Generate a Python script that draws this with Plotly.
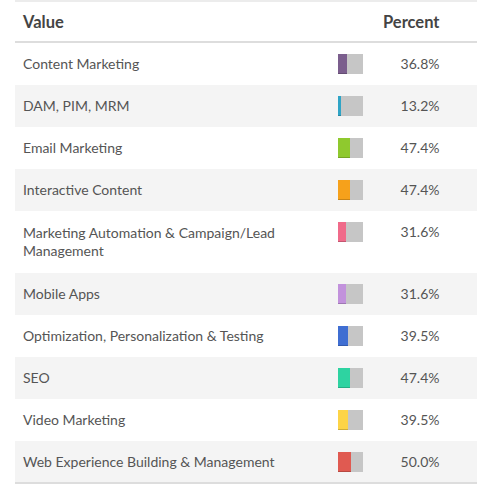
import plotly.graph_objects as go

# ---- data ----
categories = [
    "Content Marketing",
    "DAM, PIM, MRM",
    "Email Marketing",
    "Interactive Content",
    "Marketing Automation & Campaign/Lead<br>Management",
    "Mobile Apps",
    "Optimization, Personalization & Testing",
    "SEO",
    "Video Marketing",
    "Web Experience Building & Management",
]
percent = [36.8, 13.2, 47.4, 47.4, 31.6, 31.6, 39.5, 47.4, 39.5, 50.0]
bar_colors = ["#7b5e8d", "#2fa4c6", "#8fc92e", "#f6a11b", "#f06b8a",
              "#c292dc", "#3f6ed2", "#2ed3a1", "#fdd447", "#e05a51"]
headers = ["Value", "Percent"]

# ---- layout constants (pixels) ----
W, H = 477, 486
LEFT, RIGHT = 15, 477
HEAD_BOTTOM = 42
ROW_H, LINE_H = 42, 20
TEXT_X, PCT_X = 23, 439.5
BAR_X0, BAR_X1 = 338, 363
BAR_H = 20
TXT_DY = 1.3      # baseline nudge for body text
HEAD_Y = 24
TXT = "#555555"
HEAD = "#444444"
FONT = "Lato, 'Open Sans', sans-serif"

# row geometry derived from number of text lines
tops, heights = [], []
t = HEAD_BOTTOM + 1
for c in categories:
    n = c.count("<br>") + 1
    h = ROW_H + LINE_H * (n - 1)
    tops.append(t)
    heights.append(h)
    t += h
first_line = [tp + ROW_H / 2 for tp in tops]
text_mid = [tp + h / 2 for tp, h in zip(tops, heights)]
table_bottom = t


def darker(hexc, f=0.82):
    r, g, b = int(hexc[1:3], 16), int(hexc[3:5], 16), int(hexc[5:7], 16)
    return "#%02x%02x%02x" % (int(r * f), int(g * f), int(b * f))


fig = go.Figure()

# labels
fig.add_trace(go.Scatter(
    x=[TEXT_X] * len(categories), y=[m + TXT_DY for m in text_mid], text=categories, mode="text",
    textposition="middle right", xaxis="x", yaxis="y",
    textfont=dict(family=FONT, size=14, color=TXT), hoverinfo="skip", showlegend=False))
# percent labels
fig.add_trace(go.Scatter(
    x=[PCT_X] * len(percent), y=[f + TXT_DY for f in first_line],
    text=[f"{p:.1f}%" for p in percent], mode="text",
    textposition="middle left", xaxis="x", yaxis="y",
    textfont=dict(family=FONT, size=14, color=TXT), hoverinfo="skip", showlegend=False))
# headers
fig.add_trace(go.Scatter(
    x=[TEXT_X, PCT_X], y=[HEAD_Y, HEAD_Y], text=headers, mode="text",
    textposition=["middle right", "middle left"], xaxis="x", yaxis="y",
    textfont=dict(family=FONT, size=16.5, color=HEAD, weight=700),
    hoverinfo="skip", showlegend=False))

# mini bars: remainder (gray), colored shadow, colored fill
fig.add_trace(go.Bar(
    orientation="h", y=first_line, x=[100 - p for p in percent], base=percent,
    width=BAR_H, offset=-BAR_H / 2, marker=dict(color="#c6c6c6", line=dict(width=0)),
    xaxis="x2", yaxis="y", hoverinfo="skip", showlegend=False))
fig.add_trace(go.Bar(
    orientation="h", y=first_line, x=percent,
    width=BAR_H, offset=-BAR_H / 2, marker=dict(color=[darker(c) for c in bar_colors], line=dict(width=0)),
    xaxis="x2", yaxis="y", hoverinfo="skip", showlegend=False))
fig.add_trace(go.Bar(
    orientation="h", y=first_line, x=percent,
    width=BAR_H - 1.5, offset=-BAR_H / 2, marker=dict(color=bar_colors, line=dict(width=0)),
    xaxis="x2", yaxis="y", hoverinfo="skip", showlegend=False))

# row backgrounds and rules
shapes = []
for i, (tp, h) in enumerate(zip(tops, heights)):
    if i % 2 == 1:
        shapes.append(dict(type="rect", xref="x", yref="y", x0=LEFT, x1=RIGHT, y0=tp, y1=tp + h,
                           fillcolor="#f4f4f4", line=dict(width=0), layer="below"))
shapes.append(dict(type="line", xref="x", yref="y", x0=LEFT, x1=RIGHT, y0=1, y1=1,
                   line=dict(color="#e6e6e6", width=1.5)))
shapes.append(dict(type="line", xref="x", yref="y", x0=LEFT, x1=RIGHT, y0=HEAD_BOTTOM, y1=HEAD_BOTTOM,
                   line=dict(color="#dddddd", width=2)))
shapes.append(dict(type="line", xref="x", yref="y", x0=LEFT, x1=RIGHT, y0=table_bottom, y1=table_bottom,
                   line=dict(color="#dddddd", width=2)))

fig.update_layout(
    width=W, height=H, margin=dict(l=0, r=0, t=0, b=0),
    paper_bgcolor="white", plot_bgcolor="rgba(0,0,0,0)",
    barmode="overlay", bargap=0, showlegend=False, shapes=shapes,
    xaxis=dict(range=[0, W], domain=[0, 1], visible=False, fixedrange=True),
    xaxis2=dict(range=[0, 100], domain=[BAR_X0 / W, BAR_X1 / W], anchor="y",
                visible=False, fixedrange=True),
    yaxis=dict(range=[H, 0], domain=[0, 1], visible=False, fixedrange=True),
    hovermode=False,
)

fig.write_html(
    "out.html",
    config={"displayModeBar": False},
    post_script="document.body.style.margin='0';document.body.style.padding='0';"
                "document.body.style.overflow='hidden';",
)
